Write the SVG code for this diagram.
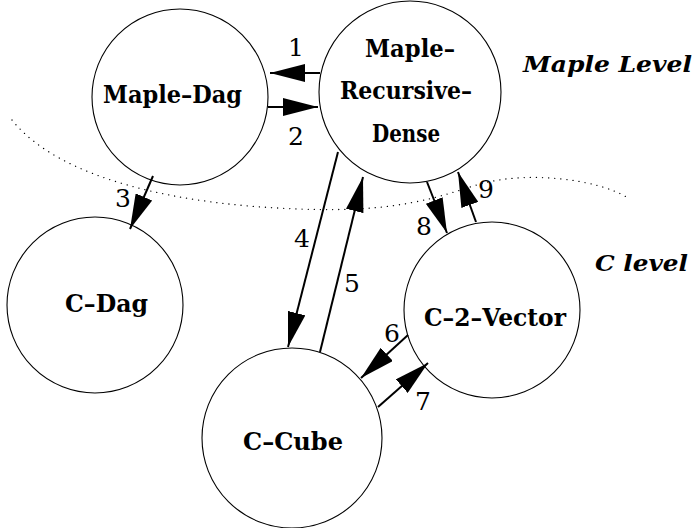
<svg xmlns="http://www.w3.org/2000/svg" width="696" height="528" viewBox="0 0 696 528">
<style>
.node{fill:#fff;stroke:#000;stroke-width:1.1}
.lbl{font-family:"DejaVu Serif",serif;font-weight:bold;font-size:25px;text-anchor:middle;fill:#000}
.num{font-family:"DejaVu Serif",serif;font-size:25px;text-anchor:middle;fill:#000}
.lvl{font-family:"DejaVu Serif",serif;font-weight:bold;font-style:italic;font-size:23px;fill:#000}
.edge{stroke:#000;stroke-width:2;fill:none;marker-end:url(#ah)}
</style>
<defs>
<marker id="ah" markerUnits="userSpaceOnUse" markerWidth="36" markerHeight="18" refX="35" refY="9" orient="auto">
<path d="M0,0 L35,9 L0,18 Z" fill="#000"/>
</marker>
</defs>
<rect width="696" height="528" fill="#fff"/>
<path id="boundary" d="M12,120 C60,180 180,205 300,209 C400,213 440,196 480,184 C530,170 600,180 628,198" fill="none" stroke="#000" stroke-width="1.3" stroke-linecap="round" stroke-dasharray="0.1 6"/>
<g id="maple-dag"><circle class="node" cx="180" cy="97" r="88"/><text class="lbl" x="172.5" y="103" textLength="139" lengthAdjust="spacingAndGlyphs">Maple–Dag</text></g>
<g id="maple-rd"><circle class="node" cx="410" cy="92" r="91"/><text class="lbl" x="410" y="57" textLength="90" lengthAdjust="spacingAndGlyphs">Maple–</text><text class="lbl" x="406" y="99" textLength="132" lengthAdjust="spacingAndGlyphs">Recursive–</text><text class="lbl" x="406" y="142" textLength="68" lengthAdjust="spacingAndGlyphs">Dense</text></g>
<g id="c-dag"><circle class="node" cx="95" cy="305" r="88"/><text class="lbl" x="106.5" y="312" textLength="83" lengthAdjust="spacingAndGlyphs">C–Dag</text></g>
<g id="c-cube"><circle class="node" cx="292" cy="438" r="90"/><text class="lbl" x="293" y="450" textLength="100" lengthAdjust="spacingAndGlyphs">C–Cube</text></g>
<g id="c-2-vector"><circle class="node" cx="492" cy="310" r="88"/><text class="lbl" x="495" y="326" textLength="142" lengthAdjust="spacingAndGlyphs">C–2–Vector</text></g>
<g id="connectors">
<line class="edge" x1="320" y1="73" x2="270" y2="73"/>
<line class="edge" x1="268" y1="107" x2="318" y2="107"/>
<line class="edge" x1="153" y1="176" x2="130" y2="229"/>
<line class="edge" x1="338" y1="152" x2="288" y2="347"/>
<line class="edge" x1="320" y1="352" x2="363" y2="177"/>
<line class="edge" x1="408" y1="335" x2="361" y2="378"/>
<line class="edge" x1="378" y1="407" x2="428" y2="363"/>
<line class="edge" x1="427" y1="182" x2="447" y2="233"/>
<line class="edge" x1="476" y1="222" x2="458" y2="172"/>
<text class="num" x="296" y="56">1</text>
<text class="num" x="296" y="145">2</text>
<text class="num" x="123" y="207">3</text>
<text class="num" x="302" y="247">4</text>
<text class="num" x="352" y="292">5</text>
<text class="num" x="392" y="342">6</text>
<text class="num" x="423" y="410">7</text>
<text class="num" x="424" y="235">8</text>
<text class="num" x="486" y="198">9</text>
</g>
<text class="lvl" x="523" y="72" textLength="169" lengthAdjust="spacingAndGlyphs">Maple Level</text>
<text class="lvl" x="595" y="271" textLength="93" lengthAdjust="spacingAndGlyphs">C level</text>
</svg>
